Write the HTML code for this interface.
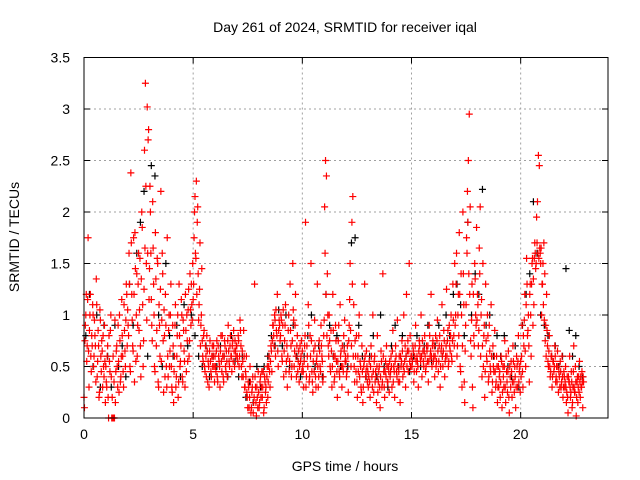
<!DOCTYPE html>
<html><head><meta charset="utf-8"><style>
body{margin:0;background:#fff;}
svg{display:block;font-family:"Liberation Sans",sans-serif;}
</style></head><body>
<svg id="chart" width="640" height="480">
<text x="345" y="32" text-anchor="middle" font-size="14">Day 261 of 2024, SRMTID for receiver iqal</text>
<text x="345" y="471" text-anchor="middle" font-size="14">GPS time / hours</text>
<text x="19" y="237" text-anchor="middle" font-size="14" transform="rotate(-90 19 237)">SRMTID / TECUs</text>
<g id="grid"></g>
<g id="ticks"></g>
<g id="black"></g>
<g id="red"></g>
<rect x="84" y="57.5" width="524" height="360.5" fill="none" stroke="#000" stroke-width="1"/>
</svg>
<script>
const xTicks=[0,5,10,15,20];
const yTicks=[0,0.5,1,1.5,2,2.5,3,3.5];
const yTickLabels=["0","0.5","1","1.5","2","2.5","3","3.5"];
const groupHours=[0,1,2,3,4,5,6,7,8,9,10,11,12,13,14,15,16,17,18,19,20,21,22];
const groupSpans=[1,1,1,1,1,1,1,1,1,1,1,1,1,1,1,1,1,1,1,1,1,1,0.9];
const redValues=[
[0.1,0.9,1.2,0.7,1.75,0.3,1.0,0.6,0.8,1.1,0.5,0.95,0.7,1.35,0.4,0.85,0.2,1.05,0.6,0.75,0.3,0.5,0.9,0.15],
[0.35,0.6,0.2,0.8,0.45,1.0,0,0,0,0,0.15,0.65,0.5,0.9,0.25,0.75,0.4,1.15,0.6,0.3,0.85,0.5,1.3,0.7],
[0.9,1.6,0.5,2.38,1.2,0.7,1.75,0.35,1.45,1.0,0.6,1.3,0.85,1.55,0.4,2.0,1.1,0.75,2.6,3.25,1.5,3.02,2.7,1.15],
[2.25,1.6,0.9,2.1,1.3,0.5,1.8,0.7,1.55,0.35,1.1,0.6,2.2,0.95,1.4,0.25,0.8,1.2,0.5,1.75,0.4,1.0,0.65,1.3],
[0.3,0.9,0.15,0.6,1.1,0.4,0.8,0.2,1.3,0.5,0.7,1.0,0.35,0.85,0.55,1.2,0.45,0.75,1.05,0.6,1.4,0.9,1.1,1.5],
[1.3,2.0,1.6,2.3,1.9,1.4,1.1,1.7,0.9,1.45,0.6,0.8,0.5,0.7,0.4,0.65,0.55,0.3,0.75,0.45,0.6,0.5,0.7,0.35],
[0.5,0.65,0.4,0.7,0.55,0.3,0.8,0.45,0.6,0.35,0.75,0.5,0.65,0.4,0.9,0.55,0.7,0.6,0.45,0.75,0.85,0.5,0.65,0.7],
[0.6,0.8,0.5,0.95,0.7,0.4,0.55,0.85,0.3,0.45,0.6,0.2,0.35,0.1,0.5,0.05,0.25,0.4,0.15,1.3,0.3,0.02,0.2,0.45],
[0.1,0.35,0.2,0.45,0.3,0.05,0.4,0.25,0.15,0.5,0.35,0.6,0.3,0.7,0.45,0.9,0.8,1.0,0.6,0.85,1.2,0.5,0.95,0.75],
[1.0,0.6,0.9,0.4,0.75,1.1,0.55,0.3,0.85,0.45,1.3,0.7,0.5,1.5,0.95,0.65,1.2,0.4,0.8,0.55,0.35,0.7,0.6,0.45],
[0.5,0.3,0.7,1.9,0.4,0.6,1.1,0.35,0.8,1.5,0.45,0.25,0.65,0.95,0.4,0.55,1.3,0.3,0.75,0.5,0.9,0.6,0.35,0.8],
[2.05,2.5,2.35,1.4,0.7,1.0,0.5,0.85,0.3,1.2,0.6,0.4,0.9,0.55,0.2,0.75,0.45,1.1,0.65,0.3,0.5,0.8,0.95,0.6],
[0.4,0.7,0.25,0.9,1.5,0.5,1.9,2.15,1.1,0.35,0.6,0.8,0.2,0.45,1.0,0.55,0.3,0.7,0.15,0.5,1.3,0.4,0.65,0.35],
[0.3,0.55,0.2,0.7,0.4,1.0,0.25,0.6,0.45,0.15,0.8,0.35,0.5,0.1,0.65,0.3,1.4,0.45,0.2,0.55,0.7,0.35,0.5,0.25],
[0.4,0.6,0.3,0.85,0.5,0.2,0.7,0.45,0.95,0.35,0.6,0.15,0.5,0.75,0.4,1.0,0.55,0.3,1.2,0.65,0.45,1.5,0.8,0.6],
[0.5,0.7,0.35,0.6,0.9,0.45,0.55,0.3,0.75,0.6,1.0,0.4,0.65,0.5,0.8,0.45,0.7,0.55,0.35,0.9,0.6,1.2,0.5,0.75],
[0.6,0.4,0.8,0.55,0.95,0.45,0.7,0.3,0.65,1.1,0.5,0.85,0.4,0.6,1.25,0.75,0.5,0.9,0.65,1.0,0.55,1.3,0.8,1.5],
[1.0,1.6,0.7,1.2,1.8,0.5,1.4,0.3,2.0,1.1,0.15,0.9,1.75,2.2,2.5,2.95,2.05,0.6,1.3,0.1,0.8,1.5,1.0,1.85],
[1.2,0.7,1.65,2.05,1.0,0.4,1.5,0.8,0.2,1.3,0.6,1.0,0.35,0.9,0.5,1.1,0.25,0.7,0.45,0.85,0.3,0.6,0.15,0.5],
[0.4,0.2,0.6,0.1,0.5,0.3,0.75,0.15,0.45,0.25,0.65,0.05,0.4,0.55,0.2,0.7,0.35,0.5,0.1,0.6,0.3,0.8,0.45,0.25],
[0.4,0.9,0.3,0.7,1.2,0.5,1.55,0.8,1.0,0.35,1.3,0.6,1.5,0.9,1.1,1.7,1.45,1.95,2.1,2.55,2.45,1.6,1.65,1.3],
[1.5,1.7,1.4,0.9,1.2,0.7,0.5,0.8,0.4,0.6,0.3,0.55,0.45,0.7,0.35,0.5,0.65,0.25,0.4,0.55,0.3,0.6,0.2,0.45],
[0.3,0.5,0.15,0.4,0.05,0.35,0.6,0.2,0.45,0.1,0.3,0.7,0.25,0.5,0.02,0.35,0.15,0.4,0.55,0.2,0.3,0.45,0.1,0.35]
];
const redValues2=[
[0.2,0.75,1.0,0.55,1.15,0.65,0.85,1.2,0.45,0.7,1.0,0.6,0.8,0.35,1.1,0.55,0.7,0.25,0.95,0.45,0.65,0.8,0.4,0.55],
[0.5,0.3,0.7,0.0,0.55,0.85,0.4,0.2,0.6,0.35,0.95,0.45,0.7,0.3,0.55,1.0,0.35,0.6,0.8,0.45,1.1,0.65,0.95,1.2],
[1.05,0.8,1.3,0.45,1.7,0.95,0.65,1.2,1.8,0.55,1.4,0.9,1.6,1.05,0.7,1.35,1.85,0.5,1.25,1.65,2.25,0.95,1.6,2.8],
[1.45,2.0,1.15,0.75,1.65,1.0,0.45,1.35,0.85,1.5,0.3,0.9,1.25,0.55,1.6,0.75,1.05,0.4,0.9,0.3,0.6,0.85,0.5,1.0],
[0.5,0.25,0.7,0.45,0.9,0.3,0.6,1.0,0.35,0.8,0.55,1.15,0.4,0.95,0.65,0.3,0.85,1.0,0.55,1.25,0.75,1.05,1.3,0.95],
[1.15,1.75,2.15,1.55,1.2,2.05,0.95,1.25,0.7,1.0,0.75,0.55,0.85,0.45,0.6,0.8,0.35,0.5,0.65,0.55,0.4,0.7,0.6,0.5],
[0.6,0.45,0.75,0.35,0.6,0.5,0.65,0.55,0.8,0.4,0.6,0.7,0.45,0.55,0.75,0.65,0.5,0.8,0.6,0.7,0.55,0.65,0.75,0.6],
[0.7,0.55,0.75,0.6,0.85,0.5,0.65,0.4,0.6,0.3,0.4,0.25,0.1,0.3,0.2,0.35,0.1,0.3,0.05,0.2,0.4,0.15,0.3,0.1],
[0.25,0.15,0.4,0.3,0.2,0.45,0.1,0.35,0.3,0.4,0.2,0.5,0.45,0.55,0.65,0.75,0.9,0.7,0.95,1.05,0.8,0.65,0.85,0.9],
[0.8,0.95,0.55,1.05,0.65,0.9,0.45,0.7,0.6,1.0,0.55,0.85,0.4,0.75,1.05,0.5,0.9,0.6,0.7,0.45,0.65,0.5,0.55,0.75],
[0.65,0.45,0.55,0.8,0.3,0.7,0.5,0.9,0.4,0.6,0.75,0.35,0.55,0.45,0.7,0.3,0.6,0.5,0.4,0.65,0.45,0.7,0.55,0.4],
[0.95,1.6,1.2,0.8,1.0,0.6,0.75,0.45,0.65,0.5,0.85,0.35,0.6,0.75,0.45,0.55,0.9,0.4,0.6,0.5,0.7,0.45,0.65,0.55],
[0.55,0.45,0.6,0.75,1.15,0.85,0.7,1.3,0.6,0.5,0.75,0.45,0.35,0.6,0.8,0.4,0.5,0.25,0.45,0.3,0.55,0.6,0.45,0.5],
[0.45,0.4,0.35,0.5,0.6,0.3,0.45,0.55,0.35,0.4,0.5,0.25,0.45,0.3,0.4,0.55,0.35,0.6,0.3,0.45,0.4,0.5,0.35,0.45],
[0.55,0.45,0.5,0.65,0.35,0.45,0.55,0.6,0.4,0.5,0.45,0.35,0.6,0.55,0.65,0.5,0.45,0.7,0.6,0.5,0.75,0.65,0.55,0.5],
[0.6,0.55,0.65,0.45,0.7,0.55,0.6,0.5,0.65,0.7,0.55,0.6,0.75,0.55,0.65,0.6,0.5,0.65,0.7,0.55,0.8,0.65,0.6,0.7],
[0.55,0.7,0.6,0.5,0.75,0.65,0.55,0.8,0.5,0.7,0.6,0.65,0.75,0.55,0.7,0.6,0.85,0.55,0.7,0.8,0.6,0.75,0.95,0.7],
[0.9,1.3,0.6,1.0,0.8,1.2,0.45,1.0,0.7,1.4,0.35,0.65,1.1,1.6,1.9,1.4,1.2,0.75,0.95,0.3,1.2,0.7,1.35,0.9],
[0.95,1.1,0.85,1.4,0.6,1.15,0.7,0.5,0.9,0.45,0.75,0.55,0.8,0.4,0.65,0.45,0.6,0.35,0.5,0.6,0.45,0.35,0.5,0.3],
[0.3,0.45,0.35,0.55,0.25,0.4,0.5,0.3,0.6,0.35,0.45,0.2,0.5,0.3,0.45,0.35,0.55,0.25,0.4,0.3,0.5,0.55,0.35,0.5],
[0.55,0.6,0.45,0.8,0.95,0.65,1.1,1.3,0.85,0.7,1.2,1.0,1.3,1.55,1.35,1.55,1.6,1.5,1.7,1.6,1.55,1.65,1.5,1.0],
[1.3,1.1,0.95,0.75,0.6,0.85,0.55,0.65,0.5,0.45,0.6,0.4,0.55,0.5,0.6,0.4,0.35,0.5,0.45,0.3,0.45,0.35,0.4,0.3],
[0.4,0.35,0.3,0.25,0.2,0.4,0.35,0.3,0.25,0.35,0.15,0.45,0.3,0.25,0.35,0.2,0.4,0.3,0.25,0.35,0.4,0.3,0.35,0.4]
];
const blackValues=[
[0.8,1.2,0.5,1.0,0.3,0.9],
[0.6,0.3,0.9,0.5,0.7,0.4],
[1.3,0.9,1.6,1.9,2.2,0.6],
[2.45,2.35,1.0,0.5,1.5,0.8],
[0.6,0.9,0.4,1.1,0.7,1.0],
[0.8,0.6,0.5,0.7,0.4,0.6],
[0.5,0.7,0.6,0.4,0.8,0.55],
[0.4,0.6,0.2,0.35,0.15,0.5],
[0.3,0.5,0.6,0.8,0.7,1.05],
[0.7,1.0,0.5,0.9,0.6,0.4],
[0.6,0.8,1.0,0.5,0.7,0.4],
[1.2,0.9,0.6,0.8,0.5,0.7],
[0.5,1.7,1.75,0.9,0.6,0.4],
[0.6,0.8,0.4,1.0,0.5,0.3],
[0.7,0.9,0.5,0.8,0.6,0.45],
[0.6,0.8,0.5,0.7,0.9,0.55],
[0.7,0.9,0.6,1.0,0.8,1.2],
[1.3,1.1,0.8,1.9,1.0,1.4],
[1.2,2.22,0.9,1.0,0.6,0.8],
[0.6,0.8,0.5,0.4,0.7,0.3],
[0.9,1.2,1.4,2.1,1.6,1.0],
[0.9,0.8,0.6,0.7,0.5,0.6],
[1.45,0.85,0.6,0.8,0.5,0.4]
];
const NS="http://www.w3.org/2000/svg";
const X0=84,X1=608,Y0=418,Y1=57.5,XMAX=24,YMAX=3.5;
function xs(v){return X0+(X1-X0)*v/XMAX;}
function ys(v){return Y0-(Y0-Y1)*v/YMAX;}
const grid=document.getElementById('grid'),ticks=document.getElementById('ticks');
xTicks.forEach(t=>{
  const x=xs(t);
  if(t>0){const l=document.createElementNS(NS,'line');
  l.setAttribute('x1',x);l.setAttribute('x2',x);l.setAttribute('y1',Y1);l.setAttribute('y2',Y0);
  l.setAttribute('stroke','#a0a0a0');l.setAttribute('stroke-dasharray','2,3');
  
  
  grid.appendChild(l);}
  const tk=document.createElementNS(NS,'path');
  tk.setAttribute('d','M'+x+','+Y0+'v-6M'+x+','+Y1+'v6');tk.setAttribute('stroke','#000');
  
  
  ticks.appendChild(tk);
  const tx=document.createElementNS(NS,'text');
  tx.setAttribute('x',x);tx.setAttribute('y',Y0+21);tx.setAttribute('text-anchor','middle');tx.setAttribute('font-size','14');
  tx.textContent=t;
  
  
  ticks.appendChild(tx);
});
yTicks.forEach((t,i)=>{
  const y=ys(t);
  if(t>0&&t<YMAX){const l=document.createElementNS(NS,'line');
  l.setAttribute('x1',X0);l.setAttribute('x2',X1);l.setAttribute('y1',y);l.setAttribute('y2',y);
  l.setAttribute('stroke','#a0a0a0');l.setAttribute('stroke-dasharray','2,3');
  
  
  grid.appendChild(l);}
  const tk=document.createElementNS(NS,'path');
  tk.setAttribute('d','M'+X0+','+y+'h6M'+X1+','+y+'h-6');tk.setAttribute('stroke','#000');
  
  
  ticks.appendChild(tk);
  const tx=document.createElementNS(NS,'text');
  tx.setAttribute('x',X0-14);tx.setAttribute('y',y+5);tx.setAttribute('text-anchor','end');tx.setAttribute('font-size','14');
  tx.textContent=yTickLabels[i];
  
  
  ticks.appendChild(tx);
});
function drawSeries(gid,vals,color,name,offset){
  const g=document.getElementById(gid);
  vals.forEach((arr,gi)=>{
    arr.forEach((v,i)=>{
      const t=groupHours[gi]+groupSpans[gi]*(i+offset)/arr.length;
      const x=xs(t),y=ys(v);
      const p=document.createElementNS(NS,'path');
      p.setAttribute('d','M'+(x-3.5)+','+y+'h7M'+x+','+(y-3.5)+'v7');
      p.setAttribute('stroke',color);p.setAttribute('stroke-width','1.2');
      
      
      g.appendChild(p);
    });
  });
}
drawSeries('black',blackValues,'#000','black-point',0.5);
drawSeries('red',redValues,'#ff0000','red-point',0.5);
drawSeries('red',redValues2,'#ff0000','red-point',0.0);
</script>
</body></html>
